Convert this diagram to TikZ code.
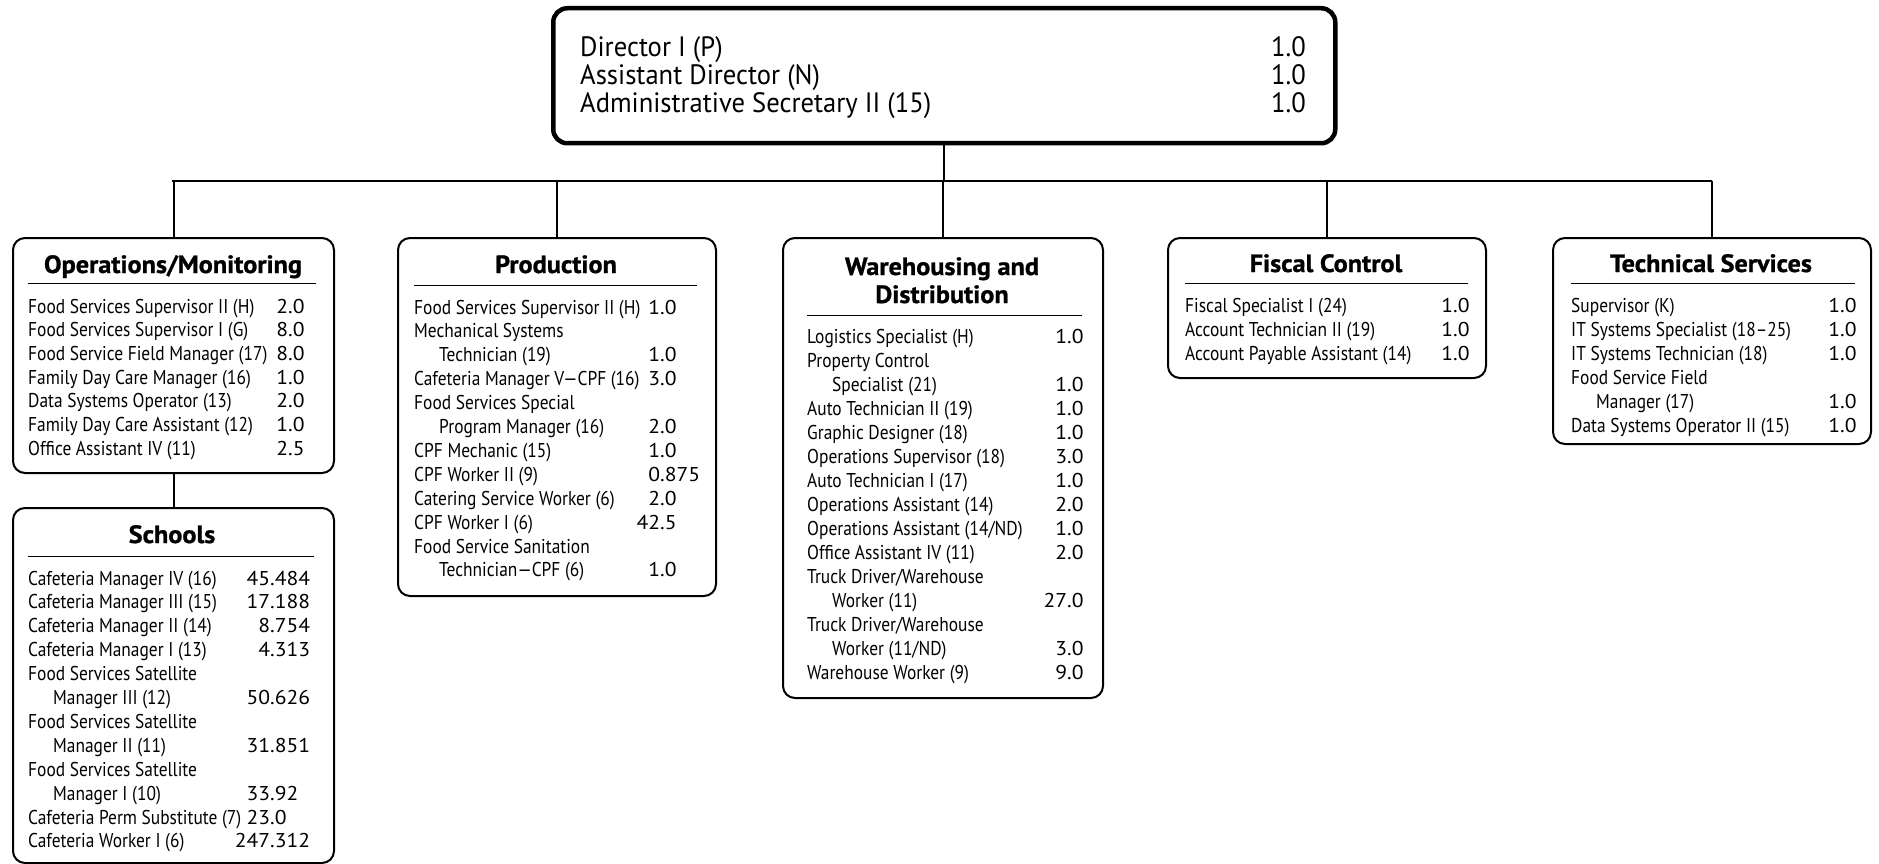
\documentclass[tikz,border=0pt]{standalone}
\usepackage{fontspec}
\setmainfont{PT Sans}
\newfontfamily\rowfont[FakeStretch=0.87]{PT Sans}
\newfontfamily\numfont[FakeStretch=1.08]{PT Sans}
\newfontfamily\topfont[FakeStretch=0.95]{PT Sans}
\newfontfamily\ttlfont[FakeStretch=1.05,FakeBold=1]{PT Sans Bold}
\newcommand\myrows[6]{% #1 prefix, #2 text x, #3 decimal x, #4 first baseline, #5 pitch, #6 list
  \foreach \t/\a/\b [count=\i from 0] in {#6}{
    \node[rowt] (#1-t\i) at (#2, #4+#5*\i) {\t};
    \if\relax\detokenize\expandafter{\a}\relax\else
      \node[numt] (#1-n\i) at (#3, #4+#5*\i) {\llap{\a}.\b};
    \fi
  }}
\newcommand\ind{\hspace*{25pt}}
\begin{document}
\begin{tikzpicture}[x=1pt,y=-1pt,
  box/.style={draw, line width=2pt, rounded corners=12pt, anchor=north west, inner sep=0pt},
  topbox/.style={draw, line width=4.5pt, rounded corners=14pt, anchor=north west, inner sep=0pt},
  conn/.style={line width=2pt},
  busline/.style={line width=2.2pt},
  rulel/.style={line width=1pt},
  rowt/.style={anchor=base west, inner sep=0pt, font=\rowfont\fontsize{20}{24}\selectfont},
  numt/.style={anchor=base west, inner sep=0pt, font=\numfont\fontsize{20}{24}\selectfont},
  topt/.style={inner sep=0pt, font=\topfont\fontsize{28}{28}\selectfont},
  ttl/.style={anchor=base, inner sep=0pt, font=\ttlfont\fontsize{25}{28}\selectfont}]
\useasboundingbox (0,0) rectangle (1879,864);

% top box
\node[topbox, minimum width=782, minimum height=135] (top) at (551,6) {};
\node[topt, anchor=base west] (top-t0) at (580,57) {Director I (P)};
\node[topt, anchor=base west] (top-t1) at (580,85) {Assistant Director (N)};
\node[topt, anchor=base west] (top-t2) at (580,113) {Administrative Secretary II (15)};
\node[topt, anchor=base east] (top-n0) at (1306,57) {1.0};
\node[topt, anchor=base east] (top-n1) at (1306,85) {1.0};
\node[topt, anchor=base east] (top-n2) at (1306,113) {1.0};

% department boxes
\node[box, minimum width=321, minimum height=235] (ops) at (12,237) {};
\node[box, minimum width=321, minimum height=355] (sch) at (12,507) {};
\node[box, minimum width=318, minimum height=358] (prod) at (397,237) {};
\node[box, minimum width=320, minimum height=460] (ware) at (782,237) {};
\node[box, minimum width=318, minimum height=140] (fisc) at (1167,237) {};
\node[box, minimum width=318, minimum height=206] (tech) at (1552,237) {};

% connectors
\coordinate (busL) at (172,181);
\coordinate (busR) at (1712,181);
\draw[busline] (busL) -- (busR);
\draw[conn] (top.south) -- (top.south |- busL);
\foreach \b in {ops,prod,ware,fisc,tech}{
  \draw[conn] (\b.north) -- (\b.north |- busL);
}
\draw[conn] (ops.south) -- (sch.north);

% titles
\node[ttl] (ops-h) at (173,273) {Operations/Monitoring};
\node[ttl] (sch-h) at (172,543) {Schools};
\node[ttl] (prod-h) at (556,273) {Production};
\node[ttl] (ware-h1) at (942,275) {Warehousing and};
\node[ttl] (ware-h2) at (942,303) {Distribution};
\node[ttl] (fisc-h) at (1326,272) {Fiscal Control};
\node[ttl] (tech-h) at (1711,272) {Technical Services};

% rules
\draw[rulel] (28,283) -- (316,283);
\draw[rulel] (28,556) -- (314,556);
\draw[rulel] (414,285) -- (697,285);
\draw[rulel] (807,315) -- (1082,315);
\draw[rulel] (1185,283) -- (1468,283);
\draw[rulel] (1571,283) -- (1855,283);

% rows
\myrows{ops}{28}{288}{313}{23.7}{
  {Food Services Supervisor II (H)}/2/0,
  {Food Services Supervisor I (G)}/8/0,
  {Food Service Field Manager (17)}/8/0,
  {Family Day Care Manager (16)}/1/0,
  {Data Systems Operator (13)}/2/0,
  {Family Day Care Assistant (12)}/1/0,
  {Office Assistant IV (11)}/2/5}

\myrows{sch}{28}{270}{585}{23.9}{
  {Cafeteria Manager IV (16)}/45/484,
  {Cafeteria Manager III (15)}/17/188,
  {Cafeteria Manager II (14)}/8/754,
  {Cafeteria Manager I (13)}/4/313,
  {Food Services Satellite}//,
  {\ind Manager III (12)}/50/626,
  {Food Services Satellite}//,
  {\ind Manager II (11)}/31/851,
  {Food Services Satellite}//,
  {\ind Manager I (10)}/33/92,
  {Cafeteria Perm Substitute (7)}/23/0,
  {Cafeteria Worker I (6)}/247/312}

\myrows{prod}{414}{660}{314}{23.9}{
  {Food Services Supervisor II (H)}/1/0,
  {Mechanical Systems}//,
  {\ind Technician (19)}/1/0,
  {Cafeteria Manager V—CPF (16)}/3/0,
  {Food Services Special}//,
  {\ind Program Manager (16)}/2/0,
  {CPF Mechanic (15)}/1/0,
  {CPF Worker II (9)}/0/875,
  {Catering Service Worker (6)}/2/0,
  {CPF Worker I (6)}/42/5,
  {Food Service Sanitation}//,
  {\ind Technician—CPF (6)}/1/0}

\myrows{ware}{807}{1067}{343}{24.07}{
  {Logistics Specialist (H)}/1/0,
  {Property Control}//,
  {\ind Specialist (21)}/1/0,
  {Auto Technician II (19)}/1/0,
  {Graphic Designer (18)}/1/0,
  {Operations Supervisor (18)}/3/0,
  {Auto Technician I (17)}/1/0,
  {Operations Assistant (14)}/2/0,
  {Operations Assistant (14/ND)}/1/0,
  {Office Assistant IV (11)}/2/0,
  {Truck Driver/Warehouse}//,
  {\ind Worker (11)}/27/0,
  {Truck Driver/Warehouse}//,
  {\ind Worker (11/ND)}/3/0,
  {Warehouse Worker (9)}/9/0}

\myrows{fisc}{1185}{1453}{312}{24}{
  {Fiscal Specialist I (24)}/1/0,
  {Account Technician II (19)}/1/0,
  {Account Payable Assistant (14)}/1/0}

\myrows{tech}{1571}{1840}{312}{24}{
  {Supervisor (K)}/1/0,
  {IT Systems Specialist (18–25)}/1/0,
  {IT Systems Technician (18)}/1/0,
  {Food Service Field}//,
  {\ind Manager (17)}/1/0,
  {Data Systems Operator II (15)}/1/0}
\end{tikzpicture}
\end{document}
